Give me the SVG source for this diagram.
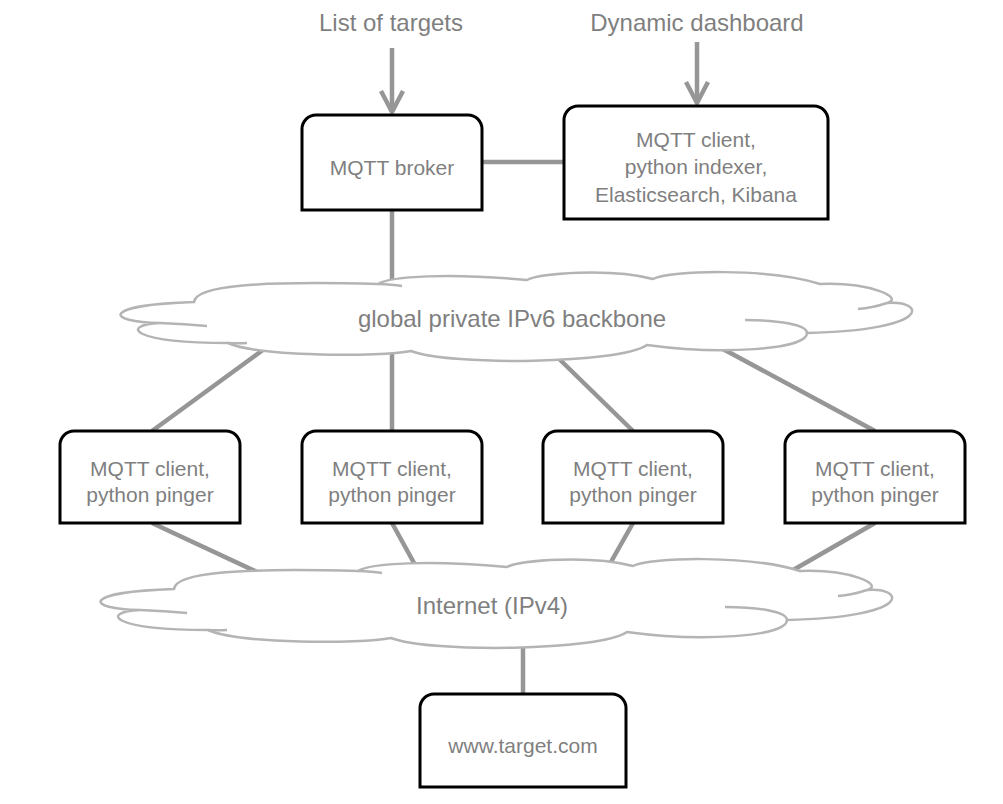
<svg xmlns="http://www.w3.org/2000/svg" xmlns:xlink="http://www.w3.org/1999/xlink" width="1003" height="804" viewBox="0 0 1003 804">
<style>
  .conn { stroke: #969696; stroke-width: 4.5; fill: none; }
  .box { fill: #ffffff; stroke: #000000; stroke-width: 3; }
  .cloud { fill: #ffffff; stroke: #b4b4b4; stroke-width: 2.5; stroke-linejoin: miter; }
  .crease { fill: none; stroke: #b4b4b4; stroke-width: 2.5; }
  .lbl { font-family: "Liberation Sans", Arial, sans-serif; fill: #7f7f7f; text-anchor: middle; }
  .big { font-size: 24px; }
  .sm { font-size: 21px; }
</style>
<defs>
  <marker id="chev" markerUnits="userSpaceOnUse" markerWidth="30" markerHeight="30" refX="21" refY="12" orient="auto" overflow="visible">
    <path d="M0,1 L21,12 L0,23" fill="none" stroke="#969696" stroke-width="4.5"/>
  </marker>
  <g id="cloudShape">
    <path class="cloud" d="M194,302 C196,285 260,281 378,284 C390,276 450,273 527,280 C540,273 610,268 653,279 C670,270 770,268 820,284 C870,282 905,298 887,303 C925,300 935,330 807,333 C807,350 720,355 647,345 C620,364 450,366 411,351 C380,357 260,357 228,343 C130,343 120,325 160,323 C105,322 100,305 194,302 Z"/>
    <path class="crease" d="M378,284 Q392,284.5 402,286 M160,323 Q185,324 207,326 M228,343 Q238,343.5 247,343 M887,303 Q872,308 858,309 M807,333 C807,325 780,320 745,320"/>
  </g>
</defs>

<g id="connectors">
  <line class="conn" x1="392" y1="48" x2="392" y2="112" marker-end="url(#chev)"/>
  <line class="conn" x1="697" y1="42" x2="697" y2="103" marker-end="url(#chev)"/>
  <line class="conn" x1="482" y1="162" x2="564" y2="162"/>
  <line class="conn" x1="392" y1="210" x2="392" y2="300"/>
  <line class="conn" x1="271" y1="344" x2="152" y2="431"/>
  <line class="conn" x1="392" y1="340" x2="392" y2="431"/>
  <line class="conn" x1="550" y1="350" x2="633" y2="431"/>
  <line class="conn" x1="710" y1="342" x2="875" y2="431"/>
  <line class="conn" x1="152" y1="523" x2="268" y2="577"/>
  <line class="conn" x1="392" y1="523" x2="419" y2="572"/>
  <line class="conn" x1="633" y1="523" x2="607" y2="569"/>
  <line class="conn" x1="875" y1="523" x2="781" y2="577"/>
  <line class="conn" x1="523" y1="640" x2="523" y2="694"/>
</g>

<g id="label-list">
  <text class="lbl big" x="391" y="31">List of targets</text>
</g>
<g id="label-dashboard">
  <text class="lbl big" x="697" y="31">Dynamic dashboard</text>
</g>

<g id="cloud-ipv6">
  <use xlink:href="#cloudShape" href="#cloudShape"/>
  <text class="lbl big" x="512" y="327">global private IPv6 backbone</text>
</g>

<g id="cloud-internet">
  <use xlink:href="#cloudShape" href="#cloudShape" transform="translate(-20,287)"/>
  <text class="lbl big" x="492" y="614">Internet (IPv4)</text>
</g>

<g id="broker">
  <path class="box" d="M302,210 V129 A14,14 0 0 1 316,115 H468 A14,14 0 0 1 482,129 V210 Z"/>
  <text class="lbl sm" x="392" y="175">MQTT broker</text>
</g>

<g id="indexer">
  <path class="box" d="M564,219 V120 A14,14 0 0 1 578,106 H814 A14,14 0 0 1 828,120 V219 Z"/>
  <text class="lbl sm" x="696" y="147">MQTT client,</text>
  <text class="lbl sm" x="696" y="174">python indexer,</text>
  <text class="lbl sm" x="696" y="202">Elasticsearch, Kibana</text>
</g>

<g id="pinger1">
  <path class="box" d="M60,523 V445 A14,14 0 0 1 74,431 H226 A14,14 0 0 1 240,445 V523 Z"/>
  <text class="lbl sm" x="150" y="476">MQTT client,</text>
  <text class="lbl sm" x="150" y="502">python pinger</text>
</g>
<g id="pinger2">
  <path class="box" d="M302,523 V445 A14,14 0 0 1 316,431 H468 A14,14 0 0 1 482,445 V523 Z"/>
  <text class="lbl sm" x="392" y="476">MQTT client,</text>
  <text class="lbl sm" x="392" y="502">python pinger</text>
</g>
<g id="pinger3">
  <path class="box" d="M543,523 V445 A14,14 0 0 1 557,431 H709 A14,14 0 0 1 723,445 V523 Z"/>
  <text class="lbl sm" x="633" y="476">MQTT client,</text>
  <text class="lbl sm" x="633" y="502">python pinger</text>
</g>
<g id="pinger4">
  <path class="box" d="M785,523 V445 A14,14 0 0 1 799,431 H951 A14,14 0 0 1 965,445 V523 Z"/>
  <text class="lbl sm" x="875" y="476">MQTT client,</text>
  <text class="lbl sm" x="875" y="502">python pinger</text>
</g>

<g id="target">
  <path class="box" d="M420,787 V708 A14,14 0 0 1 434,694 H612 A14,14 0 0 1 626,708 V787 Z"/>
  <text class="lbl sm" x="523" y="753">www.target.com</text>
</g>
</svg>
